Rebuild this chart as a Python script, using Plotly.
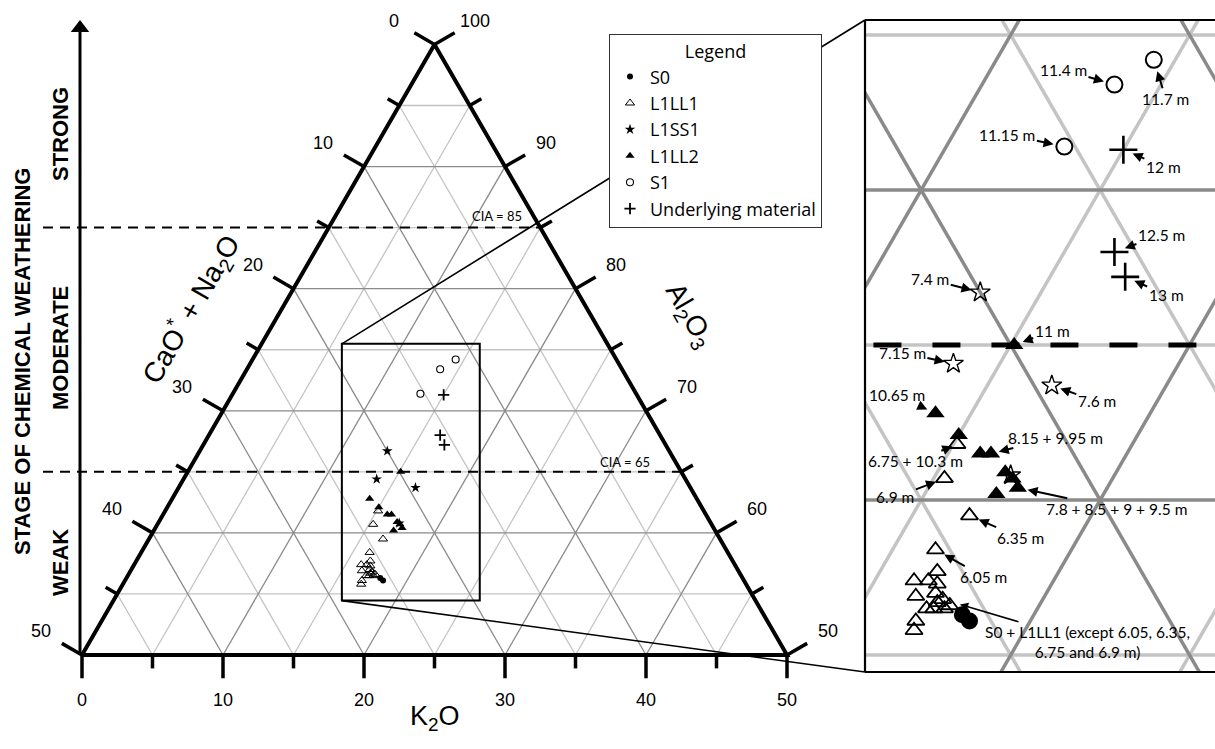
import numpy as np
import plotly.graph_objects as go

W, H = 1215, 749
R3 = np.sqrt(3) / 2

# ---------------------------------------------------------------------------
# Sample compositions in the A-CN-K system (molar %):
#   A = Al2O3, CN = CaO* + Na2O, K = K2O
# ---------------------------------------------------------------------------
s0_al = [56.3, 56.1]
s0_cn = [25.7, 25.6]
s0_k = [18.0, 18.3]

l1ll1_depth = ["6.05 m", "6.35 m", "6.75 m", "6.9 m"] + [""] * 14
l1ll1_al = [58.4, 59.5, 61.8, 60.7, 57.4, 57.7, 57.4, 56.9, 57.3,
            57.0, 56.5, 56.5, 56.5, 56.6, 56.7, 56.1, 55.8, 56.8]
l1ll1_cn = [25.4, 23.9, 23.1, 24.0, 26.5, 25.7, 26.1, 26.7, 25.9,
            26.1, 26.6, 26.4, 26.1, 25.9, 26.2, 27.1, 27.3, 26.0]
l1ll1_k = [16.2, 16.6, 15.1, 15.3, 16.1, 16.6, 16.5, 16.4, 16.8,
           16.9, 16.9, 17.1, 17.4, 17.5, 17.1, 16.8, 16.9, 17.2]

l1ss1_depth = ["7.15 m", "7.4 m", "7.6 m", ""]
l1ss1_al = [64.4, 66.7, 63.7, 60.8]
l1ss1_cn = [21.9, 20.0, 19.5, 22.1]
l1ss1_k = [13.7, 13.3, 16.8, 17.1]

l1ll2_depth = ["11 m", "10.65 m", "10.3 m", "8.15 m", "9.95 m",
               "7.8 m", "8.5 m", "9 m", "9.5 m"]
l1ll2_al = [65.0, 62.8, 62.1, 61.5, 61.5, 60.9, 60.7, 60.2, 60.4]
l1ll2_cn = [19.9, 23.2, 22.9, 22.6, 22.3, 22.2, 22.1, 22.8, 22.1]
l1ll2_k = [15.1, 14.0, 15.0, 15.9, 16.2, 16.9, 17.2, 17.0, 17.5]

s1_depth = ["11.15 m", "11.4 m", "11.7 m"]
s1_al = [71.4, 73.4, 74.2]
s1_cn = [15.3, 12.9, 11.4]
s1_k = [13.3, 13.7, 14.4]

um_depth = ["12 m", "12.5 m", "13 m"]
um_al = [71.3, 68.0, 67.2]
um_cn = [13.7, 15.6, 15.7]
um_k = [15.0, 16.4, 17.1]

cia_levels = [85, 65]

# ---------------------------------------------------------------------------
# geometry helpers
# ---------------------------------------------------------------------------
def tern_xy(a, cn, k):
    a, cn, k = (np.asarray(v, float) for v in (a, cn, k))
    tot = a + cn + k
    a, k = 100 * a / tot, 100 * k / tot
    return k + a / 2, a * R3


SCALE = 14.1                      # px per composition unit in the main panel
X_LEFT = 25 - 82 / SCALE
Y_BOT = 50 * R3 - (H - 655) / SCALE
MAIN_XR = [X_LEFT, X_LEFT + W / SCALE]
MAIN_YR = [Y_BOT, Y_BOT + H / SCALE]

ZX = [43.43, 53.21]               # magnified window
ZY = [47.16, 65.37]
INSET_DX = [865 / W, 1.0]
INSET_DY = [(H - 672) / H, (H - 20) / H]


def paper_of(x, y):
    return ((x - MAIN_XR[0]) / (MAIN_XR[1] - MAIN_XR[0]),
            (y - MAIN_YR[0]) / (MAIN_YR[1] - MAIN_YR[0]))


def pix(px, py):
    return px / W, 1 - py / H


def grid_lines(major):
    xs, ys = [], []
    for v in range(5, 50, 5):
        if (v % 10 == 0) != major:
            continue
        pairs = [
            ((50 + v, 50 - v, 0), (50 + v, 0, 50 - v)),   # constant Al2O3
            ((50, 50 - v, v), (100 - v, 0, v)),           # constant K2O
            ((50, v, 50 - v), (100 - v, v, 0)),           # constant CN
        ]
        for p, q in pairs:
            x, y = tern_xy([p[0], q[0]], [p[1], q[1]], [p[2], q[2]])
            xs += list(x) + [None]
            ys += list(y) + [None]
    return xs, ys


GRID_DARK = "#8a8a8a"
GRID_LIGHT = "#c4c4c4"

fig = go.Figure()


def add_grid(xa, ya, w_dark, w_light):
    for major, col, w in [(False, GRID_LIGHT, w_light), (True, GRID_DARK, w_dark)]:
        gx, gy = grid_lines(major)
        fig.add_trace(go.Scatter(x=gx, y=gy, mode="lines", xaxis=xa, yaxis=ya,
                                 line=dict(color=col, width=w),
                                 hoverinfo="skip", showlegend=False))


def add_cia(xa, ya, width, dash):
    x_start = 25 - 39 / SCALE
    for lv in cia_levels:
        xe, ye = tern_xy(lv, 0, 100 - lv)
        fig.add_trace(go.Scatter(x=[x_start, float(xe)], y=[float(ye), float(ye)],
                                 mode="lines", xaxis=xa, yaxis=ya,
                                 line=dict(color="black", width=width, dash=dash),
                                 hoverinfo="skip", showlegend=False))


# ---------------------------- main panel -----------------------------------
add_grid("x", "y", 1.3, 1.3)
add_cia("x", "y", 2, "10px,7px")

ex, ey = tern_xy([50, 50, 100, 50], [50, 0, 0, 50], [0, 50, 0, 0])
fig.add_trace(go.Scatter(x=ex, y=ey, mode="lines", line=dict(color="black", width=4),
                         hoverinfo="skip", showlegend=False))

# tick marks and tick labels on the three edges
N_LEFT = np.array([-R3, 0.5])
N_RIGHT = np.array([R3, 0.5])
N_BOT = np.array([0.0, -1.0])
tx, ty = [], []
labels = []
for v in range(0, 55, 5):
    length = 1.65 if v % 10 == 0 else 0.95
    edges = [
        (tern_xy(100 - v, v, 0), N_LEFT, str(v), 3.35),            # CaO*+Na2O
        (tern_xy(50 + v, 0, 50 - v), N_RIGHT, str(50 + v), 3.35),  # Al2O3
        (tern_xy(50, 50 - v, v), N_BOT, str(v), 3.2),              # K2O
    ]
    for (px_, py_), n, lab, dist in edges:
        p = np.array([float(px_), float(py_)])
        q = p + n * length
        tx += [p[0], q[0], None]
        ty += [p[1], q[1], None]
        if v % 10 == 0:
            lp = p + n * dist
            labels.append((lp[0], lp[1], lab))
fig.add_trace(go.Scatter(x=tx, y=ty, mode="lines", line=dict(color="black", width=3.5),
                         hoverinfo="skip", showlegend=False))

# weathering-stage axis: shaft plus a triangular head at the top
AX_X = 25 - 2 / SCALE
TIP_Y = Y_BOT + (H - 20) / SCALE
HEAD = 16
fig.add_trace(go.Scatter(x=[AX_X, AX_X], y=[50 * R3, TIP_Y - HEAD / 2 / SCALE],
                         mode="lines", line=dict(color="black", width=3),
                         hoverinfo="skip", showlegend=False))
fig.add_trace(go.Scatter(x=[AX_X], y=[TIP_Y - HEAD / 2 / SCALE], mode="markers",
                         marker=dict(symbol="triangle-up", size=HEAD, color="black"),
                         hoverinfo="skip", showlegend=False, cliponaxis=False))

# ---------------------------- series ---------------------------------------
series = [
    dict(name="S0", a=s0_al, cn=s0_cn, k=s0_k,
         main=dict(symbol="circle", size=6, color="black"),
         inset=dict(symbol="circle", size=17, color="black")),
    dict(name="L1LL1", a=l1ll1_al, cn=l1ll1_cn, k=l1ll1_k,
         main=dict(symbol="triangle-up-open", size=8, color="black", line=dict(width=1)),
         inset=dict(symbol="triangle-up-open", size=15, color="black", line=dict(width=1.8))),
    dict(name="L1SS1", a=l1ss1_al, cn=l1ss1_cn, k=l1ss1_k,
         main=dict(symbol="star", size=8, color="black"),
         inset=dict(symbol="star-open", size=15, color="black", line=dict(width=1.4))),
    dict(name="L1LL2", a=l1ll2_al, cn=l1ll2_cn, k=l1ll2_k,
         main=dict(symbol="triangle-up", size=8, color="black"),
         inset=dict(symbol="triangle-up", size=16, color="black")),
    dict(name="S1", a=s1_al, cn=s1_cn, k=s1_k,
         main=dict(symbol="circle-open", size=7, color="black", line=dict(width=1.1)),
         inset=dict(symbol="circle-open", size=16, color="black", line=dict(width=2))),
    dict(name="Underlying material", a=um_al, cn=um_cn, k=um_k,
         main=dict(symbol="cross-thin", size=8, color="black",
                   line=dict(width=1.8, color="black")),
         inset=dict(symbol="cross-thin", size=20, color="black",
                    line=dict(width=2.6, color="black"))),
]
pos = {}
for s in series:
    x, y = tern_xy(s["a"], s["cn"], s["k"])
    pos[s["name"]] = (x, y)
    fig.add_trace(go.Scatter(x=x, y=y, mode="markers", name=s["name"], marker=s["main"],
                             showlegend=True, hoverinfo="skip"))

# ---------------------------- inset panel ----------------------------------
add_grid("x2", "y2", 3.5, 3.5)
add_cia("x2", "y2", 5, "28px,31px")
for s in series:
    x, y = pos[s["name"]]
    fig.add_trace(go.Scatter(x=x, y=y, mode="markers", name=s["name"], marker=s["inset"],
                             xaxis="x2", yaxis="y2", showlegend=False, hoverinfo="skip",
                             cliponaxis=True))

# depth call-outs: (text, series, index, text offset px, standoff px)
callouts = [
    ("11.15 m", "S1", 0, -57, -12, 11),
    ("11.4 m", "S1", 1, -51, -15, 11),
    ("11.7 m", "S1", 2, 12, 39, 12),
    ("12 m", "Underlying material", 0, 40, 17, 10),
    ("12.5 m", "Underlying material", 1, 47, -17, 11),
    ("13 m", "Underlying material", 2, 41, 18, 10),
    ("7.4 m", "L1SS1", 1, -50, -13, 9),
    ("7.15 m", "L1SS1", 0, -51, -11, 9),
    ("7.6 m", "L1SS1", 2, 45, 16, 9),
    ("11 m", "L1LL2", 0, 38, -14, 9),
    ("10.65 m", "L1LL2", 1, -39, -18, 9),
    ("8.15 + 9.95 m", "L1LL2", 4, 65, -16, 8),
    ("6.75 + 10.3 m", "L1LL1", 2, -41, 17, 5),
    ("6.9 m", "L1LL1", 3, -49, 19, 9),
    ("7.8 + 8.5 + 9 + 9.5 m", "L1LL2", 8, 99, 21, 10),
    ("6.35 m", "L1LL1", 1, 51, 22, 10),
    ("6.05 m", "L1LL1", 0, 48, 27, 10),
    ("S0 + L1LL1 (except 6.05, 6.35,<br>6.75 and 6.9 m)", "L1LL1", 17, 145, 43, 18),
]
CALL_FONT = dict(family="Lato", size=15.5, color="black")
annotations = []
for text, name, i, dx, dy, so in callouts:
    x, y = pos[name]
    wide = "<br>" in text
    annotations.append(dict(x=float(x[i]), y=float(y[i]), xref="x2", yref="y2",
                            text=text, showarrow=True, ax=dx, ay=dy, standoff=so,
                            arrowhead=2, arrowsize=1.1 if wide else 1,
                            arrowwidth=1.5 if wide else 2, arrowcolor="black",
                            align="center", font=CALL_FONT))

# ---------------------------- main-panel text ------------------------------
TICK_FONT = dict(family="Liberation Sans", size=18, color="black")
for x, y, lab in labels:
    annotations.append(dict(x=x, y=y, xref="x", yref="y", text=lab, showarrow=False,
                            xanchor="center", yanchor="middle", font=TICK_FONT))


def page_text(px_, py_, txt, font, angle=0):
    xp, yp = pix(px_, py_)
    return dict(x=xp, y=yp, xref="paper", yref="paper", text=txt, textangle=angle,
                showarrow=False, xanchor="center", yanchor="middle", font=font)


TITLE_FONT = dict(family="Liberation Sans", size=28, color="black")
annotations += [
    page_text(435, 718, "K<sub>2</sub>O", dict(TITLE_FONT, size=27)),
    page_text(191, 309, "CaO<sup>*</sup> + Na<sub>2</sub>O", TITLE_FONT, -60),
    page_text(688, 316, "Al<sub>2</sub>O<sub>3</sub>", TITLE_FONT, 60),
]
CIA_FONT = dict(family="Lato", size=13, color="black")
for lv, (px_, py_) in zip(cia_levels, [(497, 216), (625, 462)]):
    annotations.append(page_text(px_, py_, f"CIA = {lv}", CIA_FONT))

STAGE_FONT = dict(family="Liberation Sans", size=22, color="black")
for px_, py_, txt in [(22, 362, "STAGE OF CHEMICAL WEATHERING"),
                      (60, 134, "STRONG"), (60, 348, "MODERATE"), (60, 563, "WEAK")]:
    annotations.append(page_text(px_, py_, f"<b>{txt}</b>", STAGE_FONT, -90))

# ---------------------------- shapes ---------------------------------------
shapes = [
    dict(type="rect", xref="x", yref="y", x0=ZX[0], x1=ZX[1], y0=ZY[0], y1=ZY[1],
         line=dict(color="black", width=2)),
]
tl = paper_of(ZX[0], ZY[1])
bl = paper_of(ZX[0], ZY[0])
shapes += [
    dict(type="line", xref="paper", yref="paper", x0=tl[0], y0=tl[1],
         x1=INSET_DX[0], y1=INSET_DY[1], line=dict(color="black", width=1.6)),
    dict(type="line", xref="paper", yref="paper", x0=bl[0], y0=bl[1],
         x1=INSET_DX[0], y1=INSET_DY[0], line=dict(color="black", width=1.6)),
    dict(type="line", xref="paper", yref="paper", x0=INSET_DX[0], y0=INSET_DY[0],
         x1=INSET_DX[0], y1=INSET_DY[1], line=dict(color="black", width=2.2)),
    dict(type="line", xref="paper", yref="paper", x0=INSET_DX[0], y0=INSET_DY[1],
         x1=1.0, y1=INSET_DY[1], line=dict(color="black", width=2.2)),
    dict(type="line", xref="paper", yref="paper", x0=INSET_DX[0], y0=INSET_DY[0],
         x1=1.0, y1=INSET_DY[0], line=dict(color="black", width=2.2)),
]

hidden = dict(visible=False, fixedrange=True, showgrid=False, zeroline=False)
LEGEND_FONT = dict(family="Open Sans", size=18, color="black")
fig.update_layout(
    width=W, height=H, autosize=False,
    margin=dict(l=0, r=0, t=0, b=0, pad=0),
    paper_bgcolor="white", plot_bgcolor="white",
    xaxis=dict(domain=[0, 1], range=MAIN_XR, **hidden),
    yaxis=dict(domain=[0, 1], range=MAIN_YR, **hidden),
    xaxis2=dict(domain=INSET_DX, range=ZX, anchor="y2", **hidden),
    yaxis2=dict(domain=INSET_DY, range=ZY, anchor="x2", **hidden),
    annotations=annotations,
    shapes=shapes,
    legend=dict(x=609 / W, y=1 - 34 / H, xanchor="left", yanchor="top",
                bgcolor="white", bordercolor="#333", borderwidth=1,
                font=LEGEND_FONT,
                title=dict(text="Legend", side="top center", font=LEGEND_FONT),
                itemsizing="trace", tracegroupgap=0),
)

fig.write_html("out.html")
